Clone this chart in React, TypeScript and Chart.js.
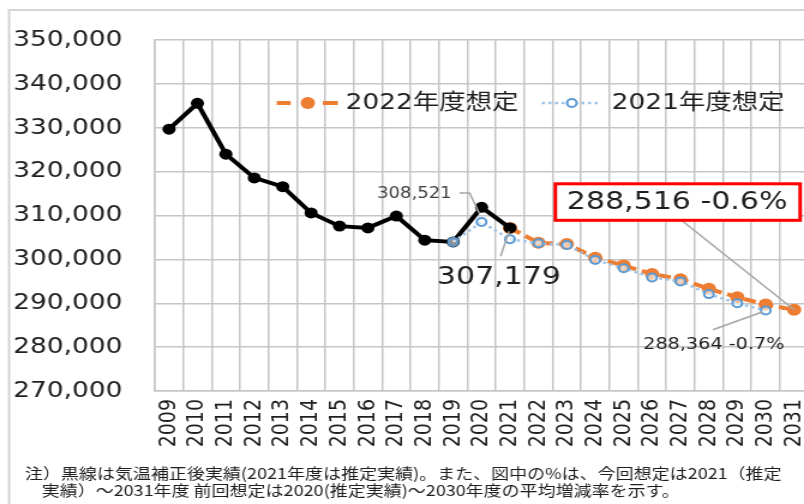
import React, { useEffect, useRef } from 'react';
import { Chart, registerables } from 'chart.js';

Chart.register(...registerables);

// ---- data ----
const years = ['2009', '2010', '2011', '2012', '2013', '2014', '2015', '2016', '2017', '2018', '2019', '2020', '2021', '2022', '2023', '2024', '2025', '2026', '2027', '2028', '2029', '2030', '2031'];
const actual: (number | null)[] = [329700, 335600, 324000, 318600, 316600, 310600, 307600, 307200, 309900, 304400, 304000, 311900, 307179, null, null, null, null, null, null, null, null, null, null];
const plan2022: (number | null)[] = [null, null, null, null, null, null, null, null, null, null, null, null, 307179, 303800, 303500, 300400, 298600, 296700, 295500, 293300, 291400, 289700, 288516];
const plan2021: (number | null)[] = [null, null, null, null, null, null, null, null, null, null, 304000, 308521, 304600, 303700, 303300, 299900, 298000, 295900, 295000, 292100, 290000, 288364, null];
const legendLabels = ['2022年度想定', '2021年度想定'];
const rate2022 = '-0.6%';
const rate2021 = '-0.7%';
const yMin = 270000;
const yMax = 350000;
const yStep = 10000;
const footnote = [
  '注）黒線は気温補正後実績(2021年度は推定実績)。また、図中の%は、今回想定は2021（推定',
  '実績）～2031年度 前回想定は2020(推定実績)～2030年度の平均増減率を示す。',
];

// ---- layout (logical px, canvas stretched horizontally) ----
const SX = 1.2;
const W = 700;
const H = 504;
const fmt = (v: number) => v.toLocaleString('en-US');
const NUM_FONT = "'DejaVu Sans'";
const JP_FONT = "'DejaVu Sans', 'Noto Sans CJK JP'";
const GRID = '#c6c6c6';
const LEADER = '#a6a6a6';

const overlay = {
  id: 'overlay',
  beforeDraw(chart: any) {
    const ctx = chart.ctx;
    ctx.save();
    ctx.fillStyle = '#fff';
    ctx.fillRect(0, 0, chart.width, chart.height);
    ctx.strokeStyle = '#d4d4d4';
    ctx.lineWidth = 2;
    ctx.beginPath();
    ctx.moveTo(7.5, H);
    ctx.lineTo(7.5, 10);
    ctx.lineTo(chart.width, 10);
    ctx.stroke();
    ctx.restore();
  },
  afterDraw(chart: any) {
    const ctx = chart.ctx;
    const a = chart.chartArea;
    const pt = (dsIndex: number, year: string) => {
      const el = chart.getDatasetMeta(dsIndex).data[years.indexOf(year)];
      return { x: el.x, y: el.y };
    };
    const line = (pts: number[][]) => {
      ctx.beginPath();
      ctx.moveTo(pts[0][0], pts[0][1]);
      for (let i = 1; i < pts.length; i++) ctx.lineTo(pts[i][0], pts[i][1]);
      ctx.stroke();
    };
    ctx.save();

    // legend
    const ly = 103;
    ctx.strokeStyle = '#ED7D31';
    ctx.lineWidth = 4;
    line([[a.left + 101.6, ly], [a.left + 113.3, ly]]);
    line([[a.left + 140, ly], [a.left + 152.5, ly]]);
    ctx.fillStyle = '#ED7D31';
    ctx.beginPath();
    ctx.arc(a.left + 127.5, ly, 6, 0, Math.PI * 2);
    ctx.fill();
    ctx.strokeStyle = '#9DC3E6';
    ctx.lineWidth = 2.5;
    ctx.setLineDash([2.5, 3]);
    line([[a.left + 322.5, ly], [a.left + 370.8, ly]]);
    ctx.setLineDash([]);
    ctx.fillStyle = '#fff';
    ctx.strokeStyle = '#5B9BD5';
    ctx.lineWidth = 2;
    ctx.beginPath();
    ctx.arc(a.left + 347.5, ly, 4, 0, Math.PI * 2);
    ctx.fill();
    ctx.stroke();
    ctx.fillStyle = '#1e1e1e';
    ctx.font = `22px ${JP_FONT}`;
    ctx.textBaseline = 'middle';
    ctx.textAlign = 'left';
    ctx.fillText(legendLabels[0], a.left + 159.1, ly);
    ctx.fillText(legendLabels[1], a.left + 380.8, ly);

    // annotation: 2020 previous plan
    ctx.strokeStyle = LEADER;
    ctx.lineWidth = 1.5;
    let p = pt(0, '2020');
    line([[p.x - 18.4, p.y - 29], [p.x - 10, p.y - 29], [p.x - 1.7, p.y - 8.4]]);
    ctx.fillStyle = '#404040';
    ctx.font = `15px ${NUM_FONT}`;
    ctx.textAlign = 'right';
    ctx.fillText(fmt(plan2021[years.indexOf('2020')] as number), p.x - 25, p.y - 28.4);

    // annotation: 2021 actual
    p = pt(1, '2021');
    line([[p.x - 7.8, p.y + 28.3], [p.x - 0.8, p.y + 3.3]]);
    ctx.fillStyle = '#1e1e1e';
    ctx.font = `25px ${NUM_FONT}`;
    ctx.textAlign = 'center';
    ctx.fillText(fmt(actual[years.indexOf('2021')] as number), p.x - 9.2, p.y + 50);

    // annotation: 2031 current plan (red box)
    p = pt(2, '2031');
    line([[p.x - 93.4, p.y - 89], [p.x, p.y]]);
    ctx.fillStyle = '#fff';
    ctx.fillRect(p.x - 199, p.y - 126, 204, 36.5);
    ctx.strokeStyle = '#ff0000';
    ctx.lineWidth = 3;
    ctx.strokeRect(p.x - 199, p.y - 126, 204, 36.5);
    ctx.fillStyle = '#1e1e1e';
    ctx.font = `25px ${NUM_FONT}`;
    ctx.fillText(`${fmt(plan2022[years.indexOf('2031')] as number)} ${rate2022}`, p.x - 97.5, p.y - 107);

    // annotation: 2030 previous plan
    p = pt(0, '2030');
    ctx.strokeStyle = LEADER;
    ctx.lineWidth = 1.5;
    line([[p.x - 44, p.y + 19.3], [p.x - 3, p.y + 1.5]]);
    ctx.fillStyle = '#1e1e1e';
    ctx.font = `16px ${NUM_FONT}`;
    ctx.fillText(`${fmt(plan2021[years.indexOf('2030')] as number)} ${rate2021}`, p.x - 43.3, p.y + 34.3);

    // footnote
    ctx.textAlign = 'left';
    ctx.font = "15px 'Noto Sans CJK JP'";
    ctx.fillStyle = '#1e1e1e';
    ctx.fillText(footnote[0], 20.8, 473);
    ctx.fillText(footnote[1], 34.7, 490);
    ctx.restore();
  },
};

export default function App() {
  const ref = useRef<HTMLCanvasElement | null>(null);
  useEffect(() => {
    if (!ref.current) return;
    const chart = new Chart(ref.current, {
      type: 'line',
      data: {
        labels: years,
        datasets: [
          {
            label: legendLabels[1],
            data: plan2021,
            order: 0,
            borderColor: '#9DC3E6',
            borderWidth: 2.5,
            borderDash: [2.5, 3],
            pointRadius: 4,
            pointBorderWidth: 2,
            pointBorderColor: '#5B9BD5',
            pointBackgroundColor: 'rgba(255,255,255,0.55)',
            tension: 0,
          },
          {
            label: '実績',
            data: actual,
            order: 1,
            borderColor: '#000',
            borderWidth: 4,
            pointRadius: 5.5,
            pointBorderWidth: 0,
            pointBackgroundColor: '#000',
            tension: 0,
          },
          {
            label: legendLabels[0],
            data: plan2022,
            order: 2,
            borderColor: '#ED7D31',
            borderWidth: 4,
            borderDash: [10, 5],
            pointRadius: 6,
            pointBorderWidth: 0,
            pointBackgroundColor: '#ED7D31',
            tension: 0,
          },
        ],
      },
      options: {
        responsive: false,
        animation: false,
        devicePixelRatio: 1,
        layout: { padding: { left: 11, top: 38, right: W - 673.6, bottom: 53 } },
        plugins: { legend: { display: false }, tooltip: { enabled: false } },
        scales: {
          x: {
            type: 'category',
            offset: true,
            grid: { offset: true, color: GRID, lineWidth: 1.5, drawTicks: false },
            border: { color: GRID, width: 1.5 },
            ticks: {
              autoSkip: false,
              minRotation: 90,
              maxRotation: 90,
              padding: 8,
              color: '#1e1e1e',
              font: { family: 'DejaVu Sans', size: 19 },
            },
            afterFit: (s: any) => { s.height = 60; },
          },
          y: {
            min: yMin,
            max: yMax,
            grid: { color: GRID, lineWidth: 1.5, drawTicks: false },
            border: { color: GRID, width: 1.5 },
            ticks: {
              stepSize: yStep,
              padding: 27,
              color: '#1e1e1e',
              font: { family: 'DejaVu Sans', size: 22 },
              callback: (v: any) => fmt(Number(v)),
            },
            afterFit: (s: any) => { s.width = 118; },
          },
        },
      },
      plugins: [overlay],
    } as any);
    return () => chart.destroy();
  }, []);

  return (
    <div style={{ position: 'fixed', left: 0, top: 0, width: 804, height: 504, overflow: 'hidden', background: '#fff' }}>
      <canvas
        ref={ref}
        width={W}
        height={H}
        style={{ display: 'block', transform: `scaleX(${SX})`, transformOrigin: '0 0' }}
      />
    </div>
  );
}
